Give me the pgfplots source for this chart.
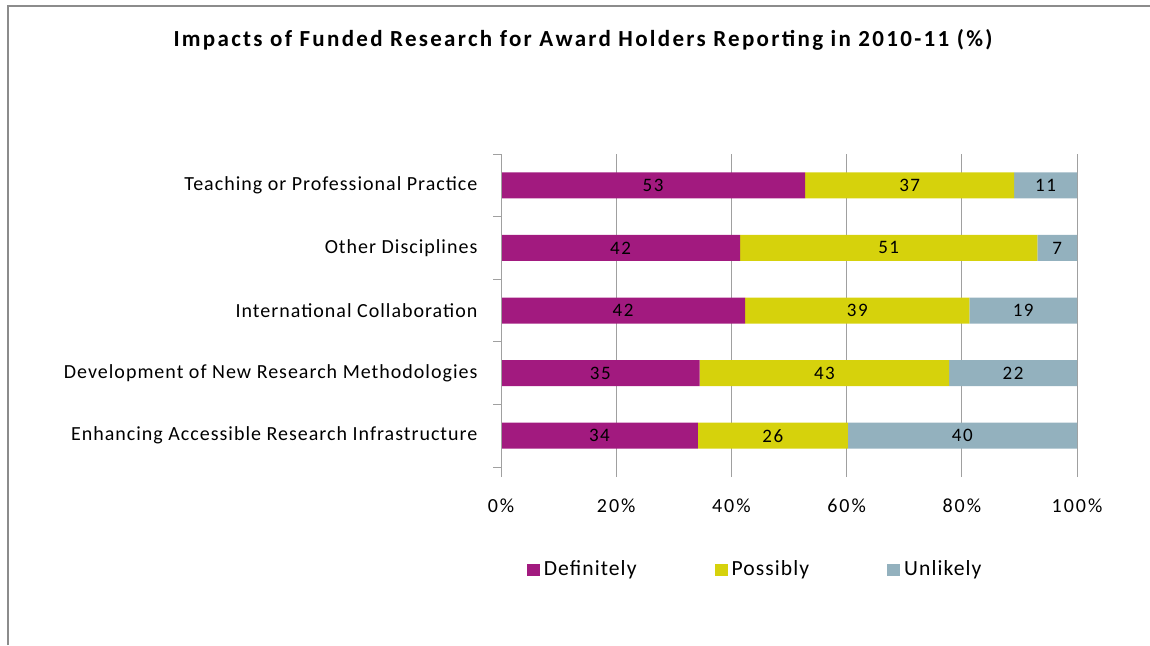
\documentclass[border=0pt]{standalone}
\usepackage{pgfplots}
\pgfplotsset{compat=1.18}
\usepackage{fontspec}
\setmainfont{Carlito}
\newfontfamily\ttlf[LetterSpace=10]{Carlito}
\newfontfamily\catf[LetterSpace=5]{Carlito}
\newfontfamily\tckf[LetterSpace=10]{Carlito}
\newfontfamily\barf[LetterSpace=8]{Carlito}
\newfontfamily\legf[LetterSpace=5]{Carlito}
\definecolor{defc}{HTML}{A21A7F}
\definecolor{posc}{HTML}{D6D20C}
\definecolor{unlc}{HTML}{93B1BE}
\definecolor{gridc}{HTML}{A0A0A0}
\definecolor{framec}{HTML}{8C8C8C}
\pgfplotsset{
  sq/.style={fill=#1, draw=none,
    legend image code/.code={\fill[##1] (0pt,-3.2pt) rectangle (6.5pt,3.2pt);}},
}
\begin{document}
\begin{tikzpicture}
\path[use as bounding box] (0,0) rectangle (575pt,-322.5pt);
\draw[framec, line width=1.4pt] (4pt,-322.5pt) -- (4pt,-3pt) -- (575pt,-3pt);
\node[font=\ttlf\bfseries\fontsize{11.5}{13}\selectfont] at (291.5pt,-20pt)
  {Impacts of Funded Research for Award Holders Reporting in 2010-11 (\%)};
\begin{axis}[
  at={(250.5pt,-233.5pt)}, anchor=south west,
  scale only axis, width=288pt, height=156.5pt,
  xbar stacked, bar width=13pt,
  xmin=0, xmax=100, ymin=-0.5, ymax=4.5,
  xtick={0,20,...,100},
  xticklabel={\pgfmathprintnumber[assume math mode=true]{\tick}\%},
  xmajorgrids, major grid style={gridc, line width=0.5pt},
  ytick={-0.5,0.5,...,4.5},
  y tick label as interval,
  yticklabels={Enhancing Accessible Research Infrastructure,
    Development of New Research Methodologies,
    International Collaboration,
    Other Disciplines,
    Teaching or Professional Practice},
  axis line style={draw=none},
  extra description/.code={\draw[gridc, line width=0.5pt] (rel axis cs:0,0) -- (rel axis cs:0,1);},
  tick align=outside,
  xtick pos=left, ytick pos=left,
  xtick style={gridc, line width=0.5pt, /pgfplots/major tick length=5pt},
  ytick style={gridc, line width=0.5pt, /pgfplots/major tick length=4pt},
  xticklabel style={font=\tckf\fontsize{10}{12}\selectfont, yshift=-8pt},
  yticklabel style={font=\catf\fontsize{10}{12}\selectfont, xshift=-4pt},
  point meta=explicit symbolic,
  nodes near coords,
  every node near coord/.append style={anchor=center, black,
    font=\barf\fontsize{9.5}{11}\selectfont},
  legend style={at={(0.443,-0.329)}, anchor=center, draw=none,
    font=\legf\fontsize{10.8}{12}\selectfont,
    /tikz/every even column/.append style={column sep=37pt}},
  legend columns=3,
]
\addplot[sq=defc] coordinates {
  (34.2,0) [34] (34.5,1) [35] (42.4,2) [42] (41.5,3) [42] (52.8,4) [53]};
\addplot[sq=posc] coordinates {
  (26.0,0) [26] (43.3,1) [43] (38.9,2) [39] (51.6,3) [51] (36.3,4) [37]};
\addplot[sq=unlc] coordinates {
  (39.8,0) [40] (22.2,1) [22] (18.7,2) [19] (6.9,3) [7] (10.9,4) [11]};
\legend{Definitely,Possibly,Unlikely}
\end{axis}
\end{tikzpicture}
\end{document}
